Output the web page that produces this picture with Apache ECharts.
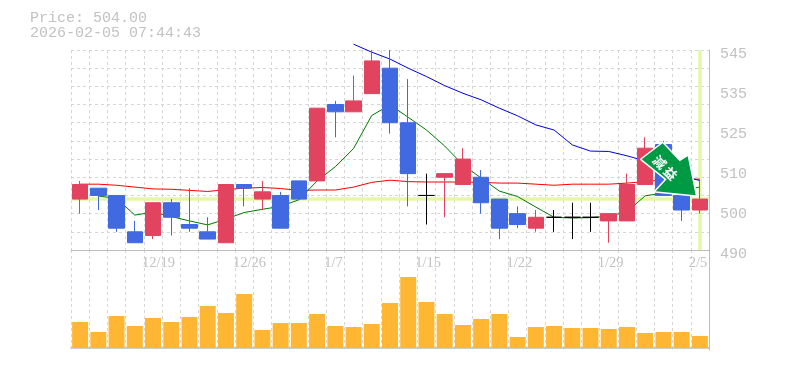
<!DOCTYPE html>
<html><head><meta charset="utf-8">
<style>html,body{margin:0;padding:0;background:#fff}#c{width:785px;height:370px}</style>
<script src="https://cdn.jsdelivr.net/npm/echarts@6/dist/echarts.min.js"></script>
</head><body><div id="c"></div>
<script>
const titleText = "Price: 504.00\n2026-02-05 07:44:43";
const categories = ["12/12","12/15","12/16","12/17","12/18","12/19","12/22","12/23","12/24","12/25","12/26","12/29","12/30","1/5","1/6","1/7","1/8","1/9","1/13","1/14","1/15","1/16","1/19","1/20","1/21","1/22","1/23","1/26","1/27","1/28","1/29","1/30","2/2","2/3","2/4"];
const xTickLabels = {4:"12/19",9:"12/26",14:"1/7",19:"1/15",24:"1/22",29:"1/29",34:"2/5"};
const yTickLabels = ["490","500","510","525","535","545"];
const opens  = [504,507,505,495,494,503,497,495,492,508,504,505,509,509,530,528,533,540,525,505,510,508,510,504,500,496,499,499,499,498,498,508,519,505,501];
const closes = [508,505,496,492,503,499,496,493,508,507,506,496,504,529,528,531,542,525,511,505,511,515,503,496,497,499,499,499,499,500,508,518,505,501,504];
const lows   = [500,501,495,492,493,494,495,493,492,502,501,496,504,509,521,528,533,522,502,497,499,508,500,493,496,495,495,493,495,492,498,508,505,498,500];
const highs  = [509,507,505,498,503,504,507,499,508,508,509,506,509,529,531,538,545,545,537,511,511,518,512,504,502,501,501,503,503,500,511,521,520,505,509];
const ma5  = [null,504.85,504.2,499.6,500.4,499.2,498,496.9,498.5,500.3,501.2,502,503.8,509,512.9,517.9,527,529.9,526.5,523,518.6,513.4,509.8,506.2,504.7,501.8,499,498.8,498.9,499.3,500.5,504.9,505.7,506.5,507.3];
const ma25 = [508.1,508.1,507.8,507.3,506.8,506.7,506.4,506.1,506.6,507,507.2,506.9,506.4,506.5,506.5,507.3,508.6,509.2,508.8,508.7,508.7,508.7,508.6,508.4,508.4,508.1,507.8,508.1,508.1,508.1,508.4,508.8,509.3,509.4,509.5];
const ma75 = [null,null,null,null,null,null,null,null,null,null,null,null,null,null,null,546.6,544.4,542.5,540,537.7,535.2,533.1,531.3,529,526.9,524.4,523,518.9,517.2,517.1,515.9,514.5,512,510.4,509.1];
const volumes = [2600,1600,3200,2200,3000,2600,3100,4200,3500,5400,1800,2500,2500,3400,2200,2100,2400,4500,7100,4600,3400,2300,2900,3400,1100,2100,2200,2000,2000,1900,2100,1500,1600,1600,1200];
const lastPrice = 504;
const lastIndex = categories.length - 1;
const badgeText = "減益";
const badgeIndex = 33, badgePrice = 513;

const RED="#e2435f", BLUE="#4169e1", GRID="#d6d6d6", AXIS="#bdbdbd", TXT="#c2c2c2", MARK="#e4f6a8";
const edgeNames = Array.from({length:categories.length+1},(_,i)=>String(i));
const splitDash = {show:true,lineStyle:{color:GRID,type:[3,3],width:1}};
const chart = echarts.init(document.getElementById('c'),null,{renderer:'canvas'});
const lineS = (name,data,color,z)=>({name,type:'line',data,xAxisIndex:0,yAxisIndex:0,showSymbol:false,symbol:'none',connectNulls:false,clip:false,z,silent:true,lineStyle:{color,width:1},animation:false});
chart.setOption({
  animation:false,
  backgroundColor:'#fff',
  title:{text:titleText,left:30,top:11,padding:0,textStyle:{fontFamily:'Liberation Mono',fontSize:15,fontWeight:'normal',color:TXT,lineHeight:15}},
  grid:[{left:71,width:638,top:50,height:200},{left:71,width:638,top:250,height:100}],
  xAxis:[
    {type:'category',gridIndex:0,data:categories,boundaryGap:true,axisLine:{show:true,lineStyle:{color:AXIS}},axisTick:{show:false},axisLabel:{show:false},splitLine:{show:false}},
    {type:'category',gridIndex:1,data:categories,boundaryGap:true,axisLine:{show:true,lineStyle:{color:AXIS,width:1.5}},axisTick:{show:false},axisLabel:{show:false},splitLine:{show:false}},
    {type:'category',gridIndex:0,position:'bottom',data:edgeNames,boundaryGap:false,axisLine:{show:false},axisTick:{show:false},splitLine:Object.assign({interval:0},splitDash),
      axisLabel:{show:true,interval:0,align:'left',margin:6,showMinLabel:true,showMaxLabel:true,hideOverlap:false,fontFamily:'Liberation Sans Narrow',fontSize:14.5,color:TXT,padding:[0,0,0,-2],formatter:(v,i)=>xTickLabels[i]||''}},
    {type:'category',gridIndex:1,data:edgeNames,boundaryGap:false,axisLine:{show:false},axisTick:{show:false},axisLabel:{show:false},splitLine:Object.assign({interval:0},splitDash)}
  ],
  yAxis:[
    {type:'value',gridIndex:0,min:490,max:545,interval:5,position:'right',axisLine:{show:false},axisTick:{show:false},axisLabel:{show:false},splitLine:splitDash},
    {type:'value',gridIndex:0,min:0,max:5,interval:1,position:'right',axisLine:{show:true,lineStyle:{color:AXIS}},axisTick:{show:false},splitLine:{show:false},
      axisLabel:{show:true,margin:11,fontFamily:'Liberation Mono',fontSize:15,color:TXT,verticalAlign:'top',lineHeight:8,showMinLabel:true,showMaxLabel:true,formatter:v=>yTickLabels[v]}},
    {type:'value',gridIndex:1,min:-200,max:9800,position:'right',axisLine:{show:true,lineStyle:{color:AXIS}},axisTick:{show:false},axisLabel:{show:false},splitLine:{show:false}}
  ],
  series:[
    {name:'marks',type:'line',data:[],xAxisIndex:0,yAxisIndex:0,z:1,symbol:'none',
      markLine:{silent:true,symbol:'none',label:{show:false},animation:false,z:1,lineStyle:{color:MARK,width:3.5,type:'solid'},
        data:[{yAxis:lastPrice},{xAxis:lastIndex}]}},
    lineS('MA25',ma25,'#ff0000',2),
    lineS('MA5',ma5,'#007a00',2),
    lineS('MA75',ma75,'#0000e6',2),
    {name:'Price',type:'candlestick',xAxisIndex:0,yAxisIndex:0,z:3,barWidth:16,silent:true,
      data:categories.map((_,i)=>[opens[i],closes[i],lows[i],highs[i]]),
      itemStyle:{color:RED,color0:BLUE,borderColor:RED,borderColor0:BLUE,borderColorDoji:'#000',borderWidth:1}},
    {name:'Volume',type:'bar',xAxisIndex:1,yAxisIndex:2,barWidth:16,silent:true,data:volumes,itemStyle:{color:'#ffb733'}},
    {name:'Badge',type:'custom',xAxisIndex:0,yAxisIndex:0,z:10,silent:true,clip:false,data:[[badgeIndex,badgePrice]],
      encode:{x:0,y:1},
      renderItem:(params,api)=>{
        const c=api.coord([api.value(0),api.value(1)]);
        const pts=[[-40,-7],[-19,-23],[-2,-5],[6,-10],[14,29],[-26,25],[-15,13]].map(p=>[c[0]+p[0],c[1]+p[1]]);
        const glyph=(ch,dx,dy)=>({type:'text',x:c[0]+dx,y:c[1]+dy,rotation:-Math.PI/4,style:{text:ch,x:0,y:0,fill:'#fff',font:'bold 13px "Noto Sans CJK JP"',align:'center',verticalAlign:'middle'}});
        return {type:'group',children:[
          {type:'polygon',shape:{points:pts},style:{fill:'#009944',stroke:'#fff',lineWidth:3,lineJoin:'round'}},
          {type:'polygon',shape:{points:pts},style:{fill:'#009944'}},
          glyph(badgeText[0],-22,-4),
          glyph(badgeText[1],-11,7)
        ]};
      }}
  ]
});
</script></body></html>
